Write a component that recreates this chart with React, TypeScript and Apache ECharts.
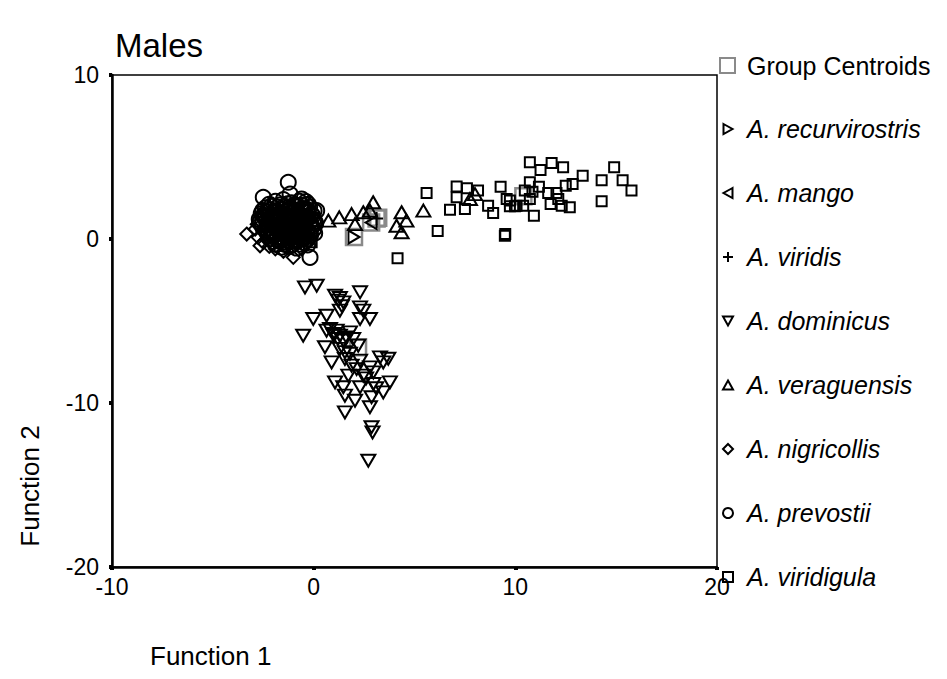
import React, { useEffect, useRef } from "react";
import * as echarts from "echarts";

const FONT = '"Liberation Sans", Arial, sans-serif';

const xTicks = [-10, 0, 10, 20];
const yTicks = [-20, -10, 0, 10];

const viridigula: number[][] = [
  [5.6, 2.8], [7.09, 3.2], [7.09, 2.54], [7.6, 3.1], [8.15, 2.95], [7.5, 1.83], [6.76, 1.79],
  [8.65, 2.03], [8.9, 1.58], [9.27, 3.19], [9.57, 2.44], [9.73, 2.34], [10.06, 2.03], [10.39, 2.03],
  [10.47, 2.95], [10.72, 3.46], [10.72, 4.68], [11.25, 4.2], [11.8, 4.63], [12.37, 4.37],
  [10.92, 1.42], [11.63, 2.8], [12.04, 2.8], [11.75, 2.13], [12.3, 2.03], [12.7, 1.93],
  [12.5, 3.25], [12.84, 3.35], [13.34, 3.86], [14.28, 3.58], [14.9, 4.37], [15.32, 3.58],
  [15.76, 2.95], [14.28, 2.3], [9.48, 0.2], [9.5, 0.3], [6.15, 0.49], [4.16, -1.18],
  [11.17, 3.19], [10.85, 2.88], [9.98, 2.0], [9.73, 2.0], [10.72, 2.44], [12.13, 2.44],
  [-0.1, -0.2],
];

const prevostii: number[][] = [
  [-1.26, 3.46], [-2.5, 2.54], [-1.17, 2.74], [-0.6, 2.44], [-0.38, 2.28], [0.15, 1.73], [-0.18, -1.12],
  [-1.9, 2.3], [-1.5, 2.4], [-1.1, 2.2], [-0.7, 2.3], [-0.4, 2.1],
  [-2.4, 1.9], [-2.1, 2.0], [-1.8, 1.95], [-1.45, 2.0], [-1.15, 1.9], [-0.85, 2.0], [-0.5, 1.85], [-0.2, 1.95],
  [-2.6, 1.55], [-2.3, 1.65], [-2.0, 1.6], [-1.7, 1.55], [-1.35, 1.65], [-1.05, 1.6], [-0.75, 1.55], [-0.45, 1.65], [-0.1, 1.5],
  [-2.7, 1.2], [-2.4, 1.3], [-2.1, 1.25], [-1.8, 1.3], [-1.5, 1.2], [-1.2, 1.3], [-0.9, 1.25], [-0.6, 1.2], [-0.3, 1.3], [0.0, 1.2],
  [-2.55, 0.9], [-2.25, 0.95], [-1.95, 0.85], [-1.65, 0.95], [-1.35, 0.9], [-1.05, 0.85], [-0.75, 0.95], [-0.45, 0.9], [-0.15, 0.85], [0.1, 0.95],
  [-2.4, 0.55], [-2.1, 0.5], [-1.8, 0.6], [-1.5, 0.55], [-1.2, 0.5], [-0.9, 0.6], [-0.6, 0.55], [-0.3, 0.5], [0.0, 0.6],
  [-2.25, 0.2], [-1.95, 0.25], [-1.65, 0.15], [-1.35, 0.2], [-1.05, 0.25], [-0.75, 0.15], [-0.45, 0.2], [-0.15, 0.25],
  [-2.0, -0.15], [-1.7, -0.1], [-1.4, -0.2], [-1.1, -0.15], [-0.8, -0.1], [-0.5, -0.2],
  [-1.6, -0.5], [-1.2, -0.45], [-0.85, -0.55],
  [-2.2, 2.12], [-1.65, 2.08], [-1.3, 2.15], [-0.95, 2.1], [-0.62, 2.06], [-0.27, 2.12],
  [-2.52, 1.74], [-2.16, 1.78], [-1.86, 1.72], [-1.54, 1.8], [-1.22, 1.74], [-0.91, 1.77], [-0.6, 1.73], [-0.31, 1.79], [0.02, 1.71],
  [-2.48, 1.42], [-2.21, 1.38], [-1.94, 1.44], [-1.62, 1.4], [-1.31, 1.37], [-0.99, 1.43], [-0.69, 1.4], [-0.36, 1.38], [-0.05, 1.41],
  [-2.66, 1.04], [-2.34, 1.08], [-2.02, 1.03], [-1.71, 1.07], [-1.39, 1.05], [-1.09, 1.08], [-0.79, 1.02], [-0.49, 1.06], [-0.2, 1.04], [0.05, 1.07],
  [-2.53, 0.72], [-2.24, 0.68], [-1.96, 0.73], [-1.63, 0.7], [-1.34, 0.66], [-1.01, 0.72], [-0.69, 0.69], [-0.41, 0.74], [-0.1, 0.71],
  [-2.31, 0.38], [-2.02, 0.41], [-1.71, 0.36], [-1.42, 0.39], [-1.11, 0.37], [-0.81, 0.4], [-0.5, 0.36], [-0.21, 0.39], [0.05, 0.35],
  [-2.1, 0.02], [-1.82, -0.03], [-1.51, 0.01], [-1.19, 0.03], [-0.9, -0.02], [-0.61, 0.02], [-0.3, -0.01],
  [-1.85, -0.33], [-1.45, -0.31], [-1.05, -0.35], [-0.65, -0.32], [-0.3, -0.36],
];

const nigricollis: number[][] = [
  [-3.32, 0.3], [-1.01, -1.12], [-2.66, -0.41], [-2.9, 0.6], [-2.75, 0.1], [-2.5, -0.2], [-2.2, -0.45],
  [-1.9, -0.6], [-1.5, -0.75], [-2.8, 0.9], [-2.6, 1.4], [-2.35, 0.7], [-2.05, 0.35], [-1.75, 0.0],
  [-1.25, -0.35], [-0.95, -0.4], [-0.6, -0.6], [-0.35, -0.3], [-2.2, 1.1], [-1.6, 1.0], [-1.1, 0.7],
  [-0.7, 0.35], [-0.3, 0.75], [-1.9, 1.4], [-1.3, 1.45], [-0.8, 1.7], [-2.45, 1.75], [-0.15, 0.05],
];

const veraguensis: number[][] = [
  [0.73, 1.12], [1.27, 1.32], [1.88, 1.52], [2.46, 1.63], [2.95, 2.24], [2.05, 0.91], [2.79, 1.73],
  [4.36, 1.63], [4.6, 1.12], [4.11, 0.81], [4.36, 0.41], [5.44, 1.73], [7.75, 2.44], [8.0, 2.74],
];

const dominicus: number[][] = [
  [-0.43, -2.95], [0.15, -2.85], [1.06, -3.46], [1.22, -3.76], [1.47, -3.86], [2.3, -3.25], [2.3, -4.17],
  [2.46, -4.37], [1.3, -4.37], [0.64, -4.68], [-0.02, -4.88], [2.3, -4.88], [2.79, -4.88], [-0.52, -5.9],
  [0.64, -5.59], [0.97, -5.79], [1.3, -5.9], [1.63, -6.0], [1.96, -6.1], [0.56, -6.6], [1.3, -6.7],
  [2.21, -6.5], [0.89, -7.52], [1.55, -7.32], [1.88, -7.72], [2.3, -7.42], [2.79, -7.83], [3.45, -7.52],
  [1.72, -8.33], [2.46, -8.33], [2.96, -8.13], [1.06, -8.74], [1.47, -9.04], [2.3, -9.04], [2.96, -8.84],
  [3.78, -8.74], [3.45, -9.35], [1.55, -9.55], [2.05, -9.86], [2.87, -9.65], [1.55, -10.57], [2.79, -10.26],
  [2.87, -11.48], [2.92, -11.79], [2.71, -13.52], [0.81, -5.49], [1.14, -5.59], [1.8, -5.69], [1.47, -6.2],
  [1.55, -6.9], [1.8, -7.0], [2.13, -7.93], [3.29, -7.22], [3.7, -7.3], [1.3, -3.6], [1.4, -4.1],
  [1.0, -5.9], [1.2, -6.1], [2.6, -8.5], [3.1, -9.1],
];

const viridis: number[][] = [[3.12, 1.25]];
const mango: number[][] = [[2.85, 1.0]];
const recurvirostris: number[][] = [[2.0, 0.12]];

const centroids: number[][] = [
  [10.4, 2.6], [-1.3, 1.0], [-1.9, 0.4], [3.2, 1.3], [2.2, -6.6], [3.12, 1.25], [2.85, 1.0], [2.0, 0.12],
];

const speciesNames = [
  "A. recurvirostris", "A. mango", "A. viridis", "A. dominicus",
  "A. veraguensis", "A. nigricollis", "A. prevostii", "A. viridigula",
];

const SYM = {
  right: "path://M0,0L9,5L0,10Z",
  left: "path://M9,0L0,5L9,10Z",
  down: "path://M0,0L10,0L5,9Z",
  up: "path://M5,0L10,9L0,9Z",
  plus: "path://M5,0L5,10M0,5L10,5",
};

function scatter(name: string, data: number[][], symbol: string, size: number | number[], z = 3) {
  return {
    type: "scatter",
    name,
    data,
    symbol,
    symbolSize: size,
    z,
    itemStyle: { color: "rgba(0,0,0,0)", borderColor: "#000", borderWidth: 2, opacity: 1 },
    emphasis: { disabled: true },
  };
}

export default function App() {
  const ref = useRef<HTMLDivElement>(null);
  useEffect(() => {
    if (!ref.current) return;
    const chart = echarts.init(ref.current, null, { renderer: "svg" });
    const axisCommon = {
      type: "value",
      splitLine: { show: false },
      axisLine: { show: true, onZero: false, lineStyle: { color: "#000", width: 2.5 } },
      axisTick: { show: true, length: 3, lineStyle: { color: "#000", width: 4 } },
      axisLabel: { color: "#000", fontSize: 23, fontFamily: FONT },
    };
    chart.setOption({
      animation: false,
      backgroundColor: "#fff",
      textStyle: { fontFamily: FONT },
      title: {
        text: "Males",
        left: 110,
        top: 24,
        textStyle: { fontSize: 33, fontWeight: "normal", color: "#000", fontFamily: FONT },
      },
      grid: {
        left: 112, right: 230, top: 75, bottom: 112,
        show: true, borderColor: "#000", borderWidth: 1.5, backgroundColor: "transparent",
      },
      xAxis: {
        ...axisCommon,
        min: xTicks[0], max: xTicks[xTicks.length - 1], interval: 10,
        axisLabel: { ...axisCommon.axisLabel, margin: 8 },
      },
      yAxis: {
        ...axisCommon,
        min: yTicks[0], max: yTicks[yTicks.length - 1], interval: 10,
        axisLabel: { ...axisCommon.axisLabel, margin: 13 },
      },
      legend: [
        {
          data: ["Group Centroids"],
          orient: "vertical",
          left: 714,
          top: 48,
          itemWidth: 15,
          itemHeight: 15,
          itemGap: 10,
          textStyle: { fontSize: 25, color: "#000", fontFamily: FONT, padding: [0, 0, 0, 7] },
        },
        {
          data: speciesNames.map((n) => ({ name: n, textStyle: { fontStyle: "italic" } })),
          orient: "vertical",
          left: 717,
          top: 110,
          itemWidth: 10,
          itemHeight: 10,
          itemGap: 36,
          textStyle: { fontSize: 25, color: "#000", fontFamily: FONT, lineHeight: 28, padding: [0, 0, 0, 9] },
        },
      ],
      graphic: [
        {
          type: "text",
          x: 30,
          y: 486,
          rotation: Math.PI / 2,
          style: { text: "Function 2", font: `26px ${FONT}`, fill: "#000", textAlign: "center", textVerticalAlign: "middle" },
        },
        {
          type: "text",
          x: 150,
          y: 656,
          style: { text: "Function 1", font: `26px ${FONT}`, fill: "#000", textAlign: "left", textVerticalAlign: "middle" },
        },
      ],
      series: [
        {
          type: "scatter",
          name: "Group Centroids",
          data: centroids,
          symbol: "rect",
          symbolSize: 16,
          z: 2,
          itemStyle: { color: "rgba(0,0,0,0)", borderColor: "#8a8a8a", borderWidth: 2.5, opacity: 1 },
          emphasis: { disabled: true },
        },
        scatter("A. viridigula", viridigula, "rect", 10),
        scatter("A. prevostii", prevostii, "circle", 15),
        scatter("A. nigricollis", nigricollis, "diamond", 13),
        scatter("A. veraguensis", veraguensis, SYM.up, [14, 12]),
        scatter("A. dominicus", dominicus, SYM.down, [14, 12]),
        scatter("A. viridis", viridis, SYM.plus, 13),
        scatter("A. mango", mango, SYM.left, [11, 13]),
        scatter("A. recurvirostris", recurvirostris, SYM.right, [11, 13]),
      ],
    });
    return () => chart.dispose();
  }, []);
  return (
    <div
      ref={ref}
      style={{ position: "absolute", left: 0, top: 0, width: 947, height: 679 }}
    />
  );
}
